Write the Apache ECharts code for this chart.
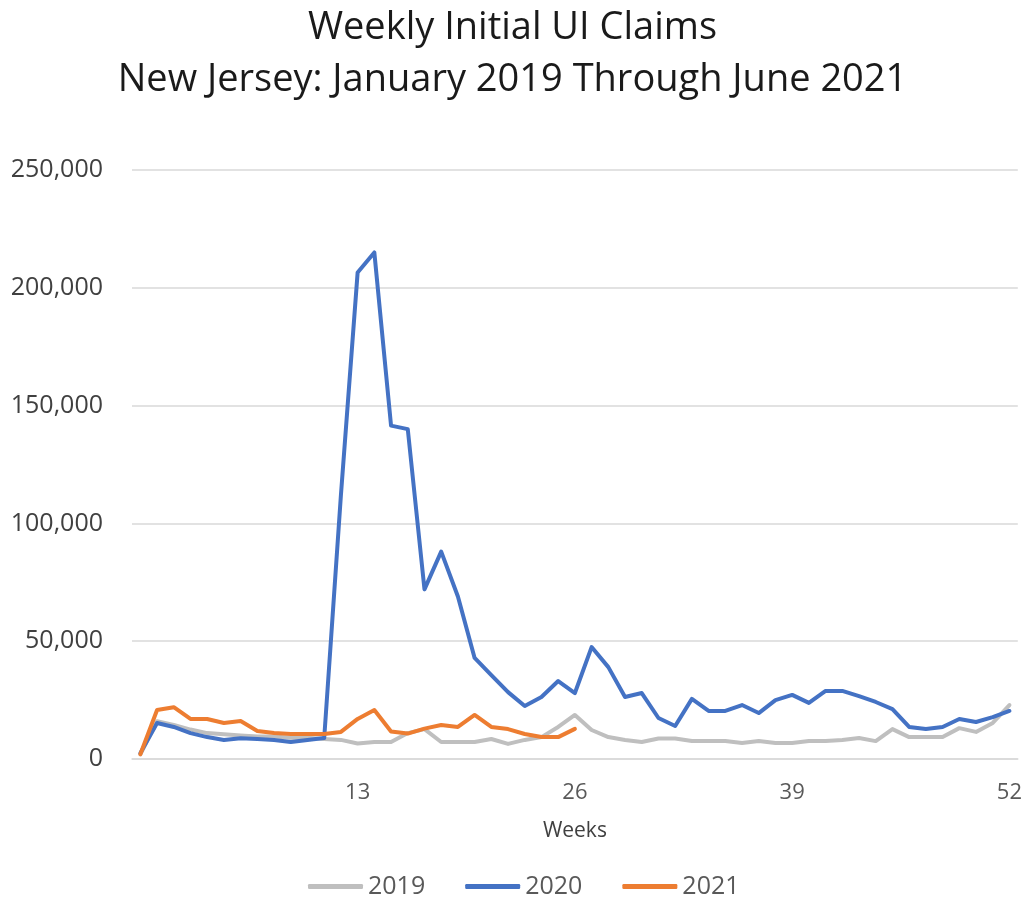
<!DOCTYPE html>
<html>
<head>
<meta charset="utf-8">
<script src="https://cdn.jsdelivr.net/npm/echarts@6/dist/echarts.min.js"></script>
<style>
html,body{margin:0;padding:0;background:#fff;}
#chart{width:1025px;height:897px;}
</style>
</head>
<body>
<div id="chart"></div>
<script>
const weeks = [];
for (let w = 0; w <= 52; w++) weeks.push(String(w));

const claims2019 = [2000, 16000, 14500, 12500, 11000, 10500, 10000, 9500, 9500, 9000,
  9000, 8500, 8100, 6600, 7200, 7200, 11000, 12700, 7200, 7200,
  7200, 8500, 6400, 8100, 9300, 13600, 18700, 12300, 9300, 8100,
  7200, 8700, 8700, 7600, 7600, 7600, 6800, 7600, 6800, 6800,
  7600, 7600, 8100, 8900, 7600, 12700, 9300, 9300, 9300, 13100,
  11500, 15300, 22900];

const claims2020 = [2500, 15300, 13600, 11000, 9300, 8100, 8800, 8500, 8100, 7200,
  8100, 8900, 112000, 206500, 215000, 141500, 140000, 72000, 88000, 69000,
  42900, 35600, 28400, 22500, 26300, 33100, 28000, 47500, 39000, 26300,
  28000, 17400, 14000, 25500, 20400, 20400, 22900, 19500, 25000, 27200,
  23800, 28900, 28900, 26700, 24200, 21200, 13600, 12700, 13600, 17000,
  15700, 17800, 20400];

const claims2021 = [2000, 20800, 22000, 17000, 17000, 15300, 16100, 11900, 11000, 10600,
  10600, 10600, 11500, 17000, 20800, 11700, 10800, 12900, 14400, 13600,
  18700, 13600, 12700, 10600, 9300, 9300, 12800];

const yTicks = [0, 50000, 100000, 150000, 200000, 250000];
const seriesNames = ['2019', '2020', '2021'];
const seriesColors = ['#BFBFBF', '#4472C4', '#ED7D31'];

const chart = echarts.init(document.getElementById('chart'));
const font = 'Open Sans';
const mk = (name, data, color) => ({
  name, type: 'line', data, symbol: 'none', smooth: false,
  lineStyle: { width: 4, color, cap: 'round', join: 'round' },
  itemStyle: { color },
  emphasis: { disabled: true }
});
chart.setOption({
  animation: false,
  backgroundColor: '#fff',
  title: {
    text: 'Weekly Initial UI Claims\nNew Jersey: January 2019 Through June 2021',
    left: 'center', top: -3,
    textStyle: { fontFamily: font, fontSize: 38, fontWeight: 'normal', color: '#1a1a1a', lineHeight: 52 }
  },
  legend: {
    data: seriesNames,
    left: 303, top: 869,
    icon: 'roundRect', itemWidth: 55, itemHeight: 5, itemGap: 40,
    textStyle: { fontFamily: font, fontSize: 25, color: '#595959' }
  },
  grid: { left: 132, right: 5, top: 170, bottom: 138, containLabel: false },
  xAxis: {
    type: 'category', data: weeks, boundaryGap: true,
    name: 'Weeks', nameLocation: 'middle', nameGap: 62,
    nameTextStyle: { fontFamily: font, fontSize: 21, color: '#404040' },
    axisLine: { show: true, lineStyle: { color: '#D9D9D9', width: 1.5 } },
    axisTick: { show: false },
    axisLabel: {
      interval: (i) => i > 0 && i % 13 === 0,
      fontFamily: font, fontSize: 22, color: '#595959', margin: 23
    }
  },
  yAxis: {
    type: 'value', min: yTicks[0], max: yTicks[yTicks.length - 1], interval: 50000,
    axisLine: { show: false }, axisTick: { show: false },
    splitLine: { lineStyle: { color: '#D9D9D9', width: 1.5 } },
    axisLabel: {
      fontFamily: font, fontSize: 25, color: '#404040', margin: 29,
      formatter: (v) => v.toLocaleString('en-US')
    }
  },
  series: [
    mk(seriesNames[0], claims2019, seriesColors[0]),
    mk(seriesNames[1], claims2020, seriesColors[1]),
    mk(seriesNames[2], claims2021, seriesColors[2])
  ]
});
</script>
</body>
</html>
